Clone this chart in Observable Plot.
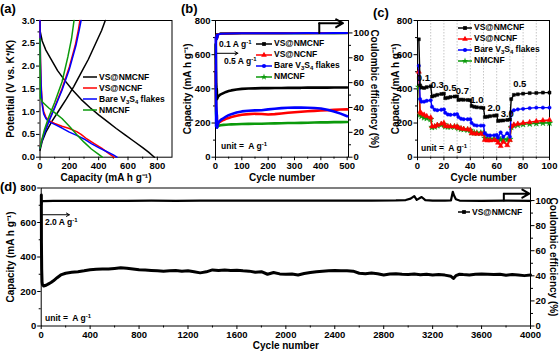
<!DOCTYPE html>
<html><head><meta charset="utf-8">
<script src="https://cdn.jsdelivr.net/npm/d3@7"></script>
<script src="https://cdn.jsdelivr.net/npm/@observablehq/plot@0.6"></script>
<style>
html,body{margin:0;padding:0;background:#fff;color:#000;overflow:hidden;}
#fig{position:relative;width:559px;height:351px;overflow:hidden;font-family:"Liberation Sans",Arial,Helvetica,sans-serif;font-weight:bold;color:#000;}
#fig > svg{position:absolute;left:0;top:0;background:transparent !important;overflow:visible;}
.lbl{position:absolute;white-space:nowrap;line-height:1;}
.leg{position:absolute;display:flex;align-items:center;height:12px;white-space:nowrap;line-height:1;}
.leg svg{display:block;overflow:visible;}
sub{font-size:0.7em;vertical-align:-0.3em;line-height:0;}
sup{font-size:0.7em;vertical-align:0.45em;line-height:0;}
</style></head>
<body><div id="fig"></div>
<script>
// ================= DATA =================
// (a) galvanostatic profiles: [capacity (mA h g-1), potential (V)]
const aNMCNF_VS_dis = [[0,2.78],[15,2.55],[40,2.35],[75,2.15],[120,1.9],[170,1.68],[220,1.48],[280,1.27],[340,1.09],[400,0.93],[460,0.78],[520,0.63],[580,0.49],[640,0.35],[700,0.21],[740,0.11],[780,0.0]];
const aNMCNF_VS_chg = [[0,0.15],[15,0.35],[40,0.55],[80,0.78],[130,1.03],[180,1.28],[230,1.55],[280,1.85],[330,2.15],[380,2.5],[420,2.78],[445,3.0]];
const aNCNF_VS_dis = [[0,3.0],[3,2.2],[8,1.6],[15,1.2],[25,1.0],[40,0.88],[60,0.8],[100,0.74],[150,0.68],[200,0.63],[250,0.56],[280,0.5],[320,0.4],[370,0.3],[420,0.2],[470,0.08],[505,0.0]];
const aNCNF_VS_chg = [[0,0.22],[10,0.35],[30,0.55],[60,0.8],[100,1.1],[150,1.5],[200,1.98],[240,2.45],[262,2.8],[272,3.0]];
const aBare_dis = [[0,3.0],[3,2.1],[8,1.5],[15,1.15],[25,0.95],[40,0.85],[60,0.78],[100,0.72],[150,0.64],[200,0.55],[250,0.48],[300,0.4],[350,0.3],[400,0.21],[450,0.13],[500,0.05],[525,0.0]];
const aBare_chg = [[0,0.2],[10,0.33],[30,0.52],[60,0.78],[100,1.08],[150,1.47],[200,1.93],[245,2.45],[268,2.8],[280,3.0]];
const aNMCNF_dis = [[0,2.6],[2,1.3],[20,1.2],[60,1.08],[100,0.98],[150,0.85],[200,0.68],[250,0.5],[300,0.33],[350,0.18],[400,0.06],[425,0.0]];
const aNMCNF_chg = [[0,0.2],[10,0.35],[30,0.6],[60,0.88],[100,1.2],[150,1.65],[190,2.2],[215,2.6],[232,3.0]];
const aXTicks = [0,200,400,600,800];
const aYTicks = [0,0.5,1,1.5,2,2.5,3];

// (b) cycling at 0.5 A g-1
const bCycles = [1,2,3,4,5,6,8,10,15,20,30,40,50,60,80,100,125,150,175,200,225,250,275,300,325,350,375,400,425,450,475,500];
const bCapNMCNF_VS = [660,430,410,400,395,340,348,355,362,368,375,382,387,391,396,400,402,403,404,404,405,405,406,406,406,407,407,407,407,408,408,408];
const bCapNCNF_VS  = [500,300,262,250,245,185,190,198,205,210,218,225,230,235,242,248,252,254,253,250,252,256,260,263,266,269,271,273,275,277,279,280];
const bCapBare     = [700,430,300,270,250,172,185,200,210,218,228,238,246,252,262,268,272,274,275,280,284,287,289,290,290,289,288,285,278,268,255,240];
const bCapNMCNF    = [420,260,235,225,218,175,180,182,185,187,189,190,191,192,193,194,195,196,196,197,198,199,200,200,201,202,203,204,204,205,205,206];
const bCeCycles = [1,2,3,5,6,10,20,50,100,150,200,250,300,350,400,450,500];
const bCeNMCNF_VS = [80,95,98,99,96,99,99.5,99.6,99.7,99.7,99.8,99.8,99.8,99.8,99.8,99.8,99.8];
const bCeNCNF_VS  = [70,93,97,98.8,95,98.9,99.4,99.6,99.7,99.8,99.8,99.8,99.9,99.8,99.9,99.9,99.9];
const bCeBare     = [25,90,97,98.5,95,98.8,99.4,99.6,99.7,99.7,99.8,99.8,99.8,99.9,99.8,99.9,99.9];
const bCeNMCNF    = [75,94,97.5,98.9,96,99,99.5,99.6,99.7,99.8,99.8,99.8,99.8,99.8,99.9,99.8,99.9];
const bXTicks = [0,100,200,300,400,500];

// (c) rate capability
const cCycles = [1,2,3,5,7,10, 11,13,15,18,20, 21,23,25,28,30, 31,33,35,38,40, 41,43,45,48,50, 51,53,55,58,60, 61,63,65,68,70, 71,73,76,80,85,90,95,100];
const cCapNMCNF_VS = [690,420,408,405,410,415, 355,360,365,370,372, 345,348,352,355,356, 335,337,336,335,333, 300,295,292,290,288, 235,237,240,243,245, 212,214,215,218,220, 340,365,368,372,375,376,378,378];
const cCapNCNF_VS  = [500,265,255,248,240,232, 180,180,188,195,200, 182,180,180,180,178, 172,168,165,163,160, 140,138,137,137,137, 100,98,98,100,100, 85,65,90,70,100, 180,190,195,200,205,210,215,218];
const cCapBare     = [535,340,325,325,330,333, 295,278,275,278,280, 260,250,248,250,252, 235,225,222,222,222, 200,188,185,185,185, 140,128,127,128,130, 115,145,120,140,120, 265,275,280,283,287,290,290,290];
const cCapNMCNF    = [410,250,240,232,228,222, 175,178,185,190,192, 180,178,178,178,177, 170,165,163,160,158, 145,143,142,142,142, 112,108,107,106,106, 105,103,104,102,105, 175,185,188,192,195,198,200,200];
const cRateLabels = ["0.1","0.3","0.5","0.7","1.0","2.0","3.0","0.5"];
const cRateLabelCycle = [4.5,15,24.5,34,45,58,68,77.5];
const cRateLabelCap = [463,420,403,388,336,289,254,428];
const cGrid = [10,20,30,40,50,60,70,80,90];
const cXTicks = [0,20,40,60,80,100];

// (d) long cycling of VS@NMCNF at 2.0 A g-1: [cycle, value]
const dCapacity = [[1,760],[2,480],[4,330],[7,255],[10,240],[20,232],[40,236],[60,244],[80,252],[100,262],[130,280],[160,296],[200,306],[250,311],[300,315],[350,320],[400,326],[450,329],[500,330],[550,331],[600,334],[650,337],[700,335],[750,331],[800,326],[850,324],[900,322],[950,320],[1000,318],[1050,320],[1100,322],[1150,318],[1200,320],[1250,315],[1300,308],[1350,314],[1400,325],[1450,322],[1500,324],[1550,322],[1600,323],[1650,320],[1700,318],[1750,312],[1800,315],[1850,300],[1900,310],[1950,302],[2000,300],[2050,302],[2100,296],[2150,304],[2200,310],[2250,315],[2300,318],[2350,320],[2400,322],[2450,321],[2500,320],[2550,318],[2600,306],[2650,303],[2700,307],[2750,303],[2800,296],[2850,302],[2900,303],[2950,300],[3000,298],[3050,301],[3100,297],[3150,300],[3200,296],[3250,298],[3300,295],[3350,288],[3370,276],[3390,292],[3420,300],[3450,298],[3500,296],[3550,300],[3600,302],[3650,300],[3700,298],[3750,300],[3800,294],[3850,298],[3900,296],[3950,292],[4000,295]];
const dCe = [[1,97],[5,99.3],[20,99.6],[100,99.7],[300,99.8],[500,99.7],[700,99.8],[900,99.9],[1100,99.8],[1300,99.9],[1500,100],[1700,99.9],[1900,100],[2100,99.9],[2300,100],[2500,99.9],[2700,100],[2900,100.1],[2980,100.4],[3020,101.5],[3050,103.5],[3070,100.5],[3110,102.8],[3140,100.3],[3200,100],[3300,99.9],[3350,100.2],[3365,107],[3375,104],[3390,101],[3420,100],[3600,99.8],[3800,99.9],[4000,99.8]];
const dXTicks = [0,400,800,1200,1600,2000,2400,2800,3200,3600,4000];

const capTicks = [0,200,400,600,800];
const ceTicks = [0,20,40,60,80,100];

// annotation arrows (data coordinates)
const bRateArrow = [{x1:0, y1:608, x2:85, y2:608}];
const dRateArrow = [{x1:0, y1:645, x2:230, y2:645}];
const bCeArrowStem = [[394,100],[394,107.8]];
const bCeArrow = [{x1:394, y1:107.8, x2:484, y2:107.8}];
const dCeArrowStem = [[3782,100],[3782,105.5]];
const dCeArrow = [{x1:3782, y1:105.5, x2:3990, y2:105.5}];

// ================= DRAWING =================
const W = 559, H = 351;
const FONT = '"Liberation Sans", Arial, Helvetica, sans-serif';
const COL = {k:"#000000", r:"#ff0000", b:"#0000ff", g:"#0b9a0b"};
const fig = document.getElementById("fig");

function mkPlot(box, xDomain, yDomain, marks) {
  const [l, r, t, b] = box;
  return Plot.plot({
    width: W, height: H,
    marginLeft: l, marginRight: W - r, marginTop: t, marginBottom: H - b,
    style: `font-family:${FONT};font-size:9.5px;font-weight:bold;background:transparent;overflow:visible;color:#000;`,
    x: {domain: xDomain, axis: null},
    y: {domain: yDomain, axis: null},
    marks
  });
}
const mid = (t) => t.slice(1).map((v, i) => (v + t[i]) / 2);
function axesMarks(xt, yt, yfmt) {
  return [
    Plot.axisX(mid(xt), {anchor:"bottom", tickSize:2, tickFormat:() => "", label:null}),
    Plot.axisX(xt, {anchor:"bottom", tickSize:3.5, tickPadding:1.5, label:null, tickFormat: d => String(d)}),
    Plot.axisY(mid(yt), {anchor:"left", tickSize:2, tickFormat:() => "", label:null}),
    Plot.axisY(yt, {anchor:"left", tickSize:3.5, tickPadding:1.5, label:null, tickFormat: yfmt}),
    Plot.frame({stroke:"#000", strokeWidth:1})
  ];
}
function rightAxis(yt) {
  return [
    Plot.axisY(mid(yt), {anchor:"right", tickSize:2, tickFormat:() => "", label:null}),
    Plot.axisY(yt, {anchor:"right", tickSize:3.5, tickPadding:1.5, label:null, tickFormat: d => String(d)})
  ];
}
function yTitle(text, dx, rotate = -90, anchor = "left") {
  return Plot.text([text], {frameAnchor: anchor, dx, rotate, text: d => d, textAnchor: "middle", lineAnchor: "middle", fontSize: 10, fontWeight: "bold"});
}
function xTitle(text, dy) {
  return Plot.text([text], {frameAnchor: "bottom", dy, text: d => d, textAnchor: "middle", lineAnchor: "middle", fontSize: 10, fontWeight: "bold"});
}
const pairLine = (data, stroke, w) => Plot.line(data, {x: d => d[0], y: d => d[1], stroke, strokeWidth: w});
const seriesLine = (xs, ys, stroke, w) => Plot.line(xs.map((x, i) => ({x, y: ys[i]})), {x: "x", y: "y", stroke, strokeWidth: w});
const seriesDots = (xs, ys, color, symbol, r) => Plot.dot(xs.map((x, i) => ({x, y: ys[i]})), {x: "x", y: "y", fill: color, stroke: color, strokeWidth: 0.5, symbol, r});

// ---- (a)
const boxA = [39.5, 171.5, 20, 156.7];
fig.appendChild(mkPlot(boxA, [0, 900], [0, 3], [
  ...axesMarks(aXTicks, aYTicks, d3.format(".1f")),
  pairLine(aNMCNF_VS_dis, COL.k, 1.5), pairLine(aNMCNF_VS_chg, COL.k, 1.5),
  pairLine(aNCNF_VS_dis, COL.r, 1.5), pairLine(aNCNF_VS_chg, COL.r, 1.5),
  pairLine(aBare_dis, COL.b, 1.5), pairLine(aBare_chg, COL.b, 1.5),
  pairLine(aNMCNF_dis, COL.g, 1.5), pairLine(aNMCNF_chg, COL.g, 1.5),
  yTitle("Potential (V vs. K⁺/K)", -29.5),
  xTitle("Capacity (mA h g⁻¹)", 20.6)
]));

// ---- (b)
const boxB = [215, 348, 20, 156.7];
const bX = [0, 505];
fig.appendChild(mkPlot(boxB, bX, [0, 800], [
  ...axesMarks(bXTicks, capTicks, d => String(d)),
  seriesLine(bCycles, bCapNMCNF, COL.g, 2.6),
  seriesLine(bCycles, bCapNCNF_VS, COL.r, 2.6),
  seriesLine(bCycles, bCapBare, COL.b, 2.6),
  seriesLine(bCycles, bCapNMCNF_VS, COL.k, 2.6),
  Plot.arrow(bRateArrow, {x1:"x1", y1:"y1", x2:"x2", y2:"y2", stroke:"#000", strokeWidth:1, headLength:5}),
  yTitle("Capacity (mA h g⁻¹)", -28),
  xTitle("Cycle number", 20.6)
]));
fig.appendChild(mkPlot(boxB, bX, [0, 110], [
  ...rightAxis(ceTicks),
  seriesLine(bCeCycles, bCeNMCNF, COL.g, 2),
  seriesLine(bCeCycles, bCeNMCNF_VS, COL.k, 2),
  seriesLine(bCeCycles, bCeNCNF_VS, COL.r, 2),
  seriesLine(bCeCycles, bCeBare, COL.b, 2),
  pairLine(bCeArrowStem, "#000", 2),
  Plot.arrow(bCeArrow, {x1:"x1", y1:"y1", x2:"x2", y2:"y2", stroke:"#000", strokeWidth:2, headLength:6}),
  yTitle("Coulombic efficiency (%)", 26, 90, "right")
]));

// ---- (c)
const boxC = [417, 549, 20, 156.7];
fig.appendChild(mkPlot(boxC, [0, 100], [0, 800], [
  Plot.ruleX(cGrid, {stroke:"#b8b8b8", strokeWidth:0.8, strokeDasharray:"1.5,1.5"}),
  ...axesMarks(cXTicks, capTicks, d => String(d)),
  seriesLine(cCycles, cCapNMCNF, COL.g, 1.4), seriesDots(cCycles, cCapNMCNF, COL.g, "star", 2),
  seriesLine(cCycles, cCapNCNF_VS, COL.r, 1.4), seriesDots(cCycles, cCapNCNF_VS, COL.r, "triangle", 1.9),
  seriesLine(cCycles, cCapBare, COL.b, 1.4), seriesDots(cCycles, cCapBare, COL.b, "circle", 1.7),
  seriesLine(cCycles, cCapNMCNF_VS, COL.k, 1.4), seriesDots(cCycles, cCapNMCNF_VS, COL.k, "square", 1.7),
  Plot.text(cRateLabels.map((t, i) => ({t, x: cRateLabelCycle[i], y: cRateLabelCap[i]})), {x:"x", y:"y", text:"t", fontSize:9.5, fontWeight:"bold"}),
  yTitle("Capacity (mA h g⁻¹)", -22),
  xTitle("Cycle number", 20.6)
]));

// ---- (d)
const boxD = [40.7, 530, 187.5, 325.5];
const dX = [0, 4000];
fig.appendChild(mkPlot(boxD, dX, [0, 800], [
  ...axesMarks(dXTicks, capTicks, d => String(d)),
  pairLine(dCapacity, COL.k, 3),
  Plot.arrow(dRateArrow, {x1:"x1", y1:"y1", x2:"x2", y2:"y2", stroke:"#000", strokeWidth:1, headLength:5}),
  yTitle("Capacity (mA h g⁻¹)", -30.5),
  xTitle("Cycle number", 19.5)
]));
fig.appendChild(mkPlot(boxD, dX, [0, 110], [
  ...rightAxis(ceTicks),
  pairLine(dCe, COL.k, 2.2),
  pairLine(dCeArrowStem, "#000", 2),
  Plot.arrow(dCeArrow, {x1:"x1", y1:"y1", x2:"x2", y2:"y2", stroke:"#000", strokeWidth:2, headLength:6}),
  yTitle("Coulombic efficiency (%)", 23, 90, "right")
]));

// ---- HTML labels & legends
function addLabel(html, x, y, size) {
  const d = document.createElement("div");
  d.className = "lbl";
  d.style.left = x + "px";
  d.style.top = (y - size / 2) + "px";
  d.style.fontSize = size + "px";
  d.innerHTML = html;
  fig.appendChild(d);
}
function addLegend(x, y, step, lineW, size, items) {
  items.forEach((it, i) => {
    const d = document.createElement("div");
    d.className = "leg";
    d.style.left = x + "px";
    d.style.top = (y + i * step - 6) + "px";
    d.style.fontSize = size + "px";
    const sym = it.symbol ? `<path d="${d3.symbol(it.symbol, it.ss || 14)()}" transform="translate(${lineW / 2},6)" fill="${it.color}"/>` : "";
    d.innerHTML = `<svg width="${lineW}" height="12"><line x1="0" y1="6" x2="${lineW}" y2="6" stroke="${it.color}" stroke-width="1.5"/>${sym}</svg><span style="margin-left:2px">${it.label}</span>`;
    fig.appendChild(d);
  });
}
const bareLbl = "Bare V<sub>3</sub>S<sub>4</sub> flakes";
addLabel("(a)", 0, 8.5, 13);
addLabel("(b)", 181, 8.5, 13);
addLabel("(c)", 373, 12.5, 13);
addLabel("(d)", 0, 186, 13);
addLegend(83, 77, 11, 14, 8.5, [
  {label:"VS@NMCNF", color:COL.k}, {label:"VS@NCNF", color:COL.r},
  {label:bareLbl, color:COL.b}, {label:"NMCNF", color:COL.g}]);
addLegend(256, 43.5, 11, 16, 8.5, [
  {label:"VS@NMCNF", color:COL.k, symbol:d3.symbolSquare}, {label:"VS@NCNF", color:COL.r, symbol:d3.symbolTriangle},
  {label:bareLbl, color:COL.b, symbol:d3.symbolCircle}, {label:"NMCNF", color:COL.g, symbol:d3.symbolStar}]);
addLegend(458, 27.5, 11, 14, 8.5, [
  {label:"VS@NMCNF", color:COL.k, symbol:d3.symbolSquare}, {label:"VS@NCNF", color:COL.r, symbol:d3.symbolTriangle},
  {label:bareLbl, color:COL.b, symbol:d3.symbolCircle}, {label:"NMCNF", color:COL.g, symbol:d3.symbolStar}]);
addLegend(458, 212, 11, 12, 8.5, [{label:"VS@NMCNF", color:COL.k, symbol:d3.symbolSquare}]);
addLabel("0.1 A g<sup>-1</sup>", 219, 44.5, 8.5);
addLabel("0.5 A g<sup>-1</sup>", 224, 61.5, 8.5);
addLabel("unit =&nbsp; A g<sup>-1</sup>", 221, 146.5, 8.5);
addLabel("unit =&nbsp; A g<sup>-1</sup>", 421, 148, 8.5);
addLabel("2.0 A g<sup>-1</sup>", 45, 222, 8.5);
addLabel("unit =&nbsp; A g<sup>-1</sup>", 45, 318, 8.5);
</script></body></html>
